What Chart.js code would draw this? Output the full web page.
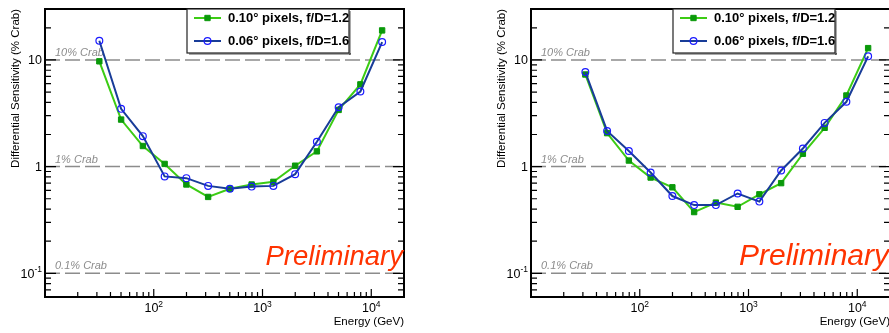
<!DOCTYPE html>
<html>
<head>
<meta charset="utf-8">
<script src="https://cdn.jsdelivr.net/npm/chart.js@4.4.0/dist/chart.umd.min.js"></script>
<style>
  html, body { margin: 0; padding: 0; background: #fff; overflow: hidden; }
  #wrap { position: relative; width: 889px; height: 333px; overflow: hidden; }
  canvas { position: absolute; top: 0; }
</style>
</head>
<body>
<div id="wrap">
  <canvas id="leftChart" width="445" height="333" style="left:0"></canvas>
  <canvas id="rightChart" width="445" height="333" style="left:486px"></canvas>
</div>
<script>
// energy bins (GeV)
const energies = [31.6, 50.1, 79.4, 125.9, 199.5, 316.2, 501.2, 794.3, 1258.9, 1995.3, 3162.3, 5011.9, 7943.3, 12589.3];

// differential sensitivity (% Crab), left panel
const leftCoarse = [9.7, 2.76, 1.56, 1.06, 0.68, 0.52, 0.62, 0.68, 0.72, 1.02, 1.39, 3.4, 5.9, 18.9];
const leftFine   = [15.1, 3.48, 1.93, 0.81, 0.78, 0.66, 0.62, 0.65, 0.66, 0.85, 1.71, 3.6, 5.06, 14.7];
// right panel
const rightCoarse = [7.3, 2.06, 1.14, 0.79, 0.64, 0.375, 0.46, 0.42, 0.55, 0.70, 1.32, 2.31, 4.64, 12.9];
const rightFine   = [7.69, 2.16, 1.40, 0.88, 0.53, 0.436, 0.436, 0.56, 0.47, 0.92, 1.48, 2.57, 4.05, 10.8];

const seriesLabels = ['0.10\u00b0 pixels, f/D=1.2', '0.06\u00b0 pixels, f/D=1.6'];

// reference levels
const crabLevels = [10, 1, 0.1];
const crabLabels = ['10% Crab', '1% Crab', '0.1% Crab'];

// axis ticks
const xTickValues = [100, 1000, 10000];
const xTickExp = ['2', '3', '4'];
const xMinorTicks = [20, 30, 40, 50, 60, 70, 80, 90, 200, 300, 400, 500, 600, 700, 800, 900,
                     2000, 3000, 4000, 5000, 6000, 7000, 8000, 9000];
const yTickValues = [0.1, 1, 10];
const yTickBase = ['10', '1', '10'];
const yTickExp = ['-1', '', ''];
const yMinorTicks = [0.07, 0.08, 0.09, 0.2, 0.3, 0.4, 0.5, 0.6, 0.7, 0.8, 0.9,
                     2, 3, 4, 5, 6, 7, 8, 9, 20];

const FONT = "'Liberation Sans', Arial, sans-serif";
Chart.defaults.font.family = FONT;
Chart.defaults.color = '#000';

function drawPow(ctx, base, exp, x, baseY, align) {
  ctx.font = '12.5px ' + FONT;
  const wb = ctx.measureText(base).width;
  ctx.font = '8.5px ' + FONT;
  const we = exp ? ctx.measureText(exp).width : 0;
  const total = wb + we;
  let sx = align === 'right' ? x - total : x - total / 2;
  ctx.textAlign = 'left';
  ctx.textBaseline = 'alphabetic';
  ctx.font = '12.5px ' + FONT;
  ctx.fillText(base, sx, baseY);
  if (exp) {
    ctx.font = '8.5px ' + FONT;
    ctx.fillText(exp, sx + wb, baseY - 5.5);
  }
}

const rootStyle = {
  id: 'rootStyle',
  beforeDatasetsDraw(chart) {
    const { ctx, chartArea: a, scales: { y } } = chart;
    ctx.save();
    ctx.strokeStyle = '#8c8c8c';
    ctx.lineWidth = 1.5;
    ctx.setLineDash([15, 5]);
    crabLevels.forEach(v => {
      const py = y.getPixelForValue(v);
      ctx.beginPath();
      ctx.moveTo(a.left, py);
      ctx.lineTo(a.right, py);
      ctx.stroke();
    });
    ctx.setLineDash([]);
    ctx.fillStyle = '#8c8c8c';
    ctx.font = 'italic 11px ' + FONT;
    ctx.textAlign = 'left';
    ctx.textBaseline = 'alphabetic';
    crabLevels.forEach((v, i) => {
      ctx.fillText(crabLabels[i], a.left + 10, y.getPixelForValue(v) - 4);
    });
    ctx.restore();
  },
  afterDraw(chart, args, opts) {
    const { ctx, chartArea: a, scales: { x, y } } = chart;
    ctx.save();

    // frame
    ctx.strokeStyle = '#000';
    ctx.lineWidth = 2;
    ctx.strokeRect(a.left, a.top, a.right - a.left, a.bottom - a.top);

    // inner tick marks
    ctx.lineWidth = 1.2;
    ctx.beginPath();
    const yTick = (v, len) => {
      const py = y.getPixelForValue(v);
      ctx.moveTo(a.left, py); ctx.lineTo(a.left + len, py);
      ctx.moveTo(a.right, py); ctx.lineTo(a.right - len, py);
    };
    yMinorTicks.forEach(v => yTick(v, 6));
    yTickValues.forEach(v => yTick(v, 11));
    const xTick = (v, len) => {
      const px = x.getPixelForValue(v);
      ctx.moveTo(px, a.bottom); ctx.lineTo(px, a.bottom - len);
    };
    xMinorTicks.forEach(v => xTick(v, 5));
    xTickValues.forEach(v => xTick(v, 8));
    ctx.stroke();

    // tick labels
    ctx.fillStyle = '#000';
    yTickValues.forEach((v, i) => {
      drawPow(ctx, yTickBase[i], yTickExp[i], a.left - 3, y.getPixelForValue(v) + 4.5, 'right');
    });
    xTickValues.forEach((v, i) => {
      drawPow(ctx, '10', xTickExp[i], x.getPixelForValue(v), a.bottom + 15, 'center');
    });

    // Preliminary
    ctx.fillStyle = '#ff3300';
    ctx.font = 'italic ' + opts.prelimSize + 'px ' + FONT;
    ctx.textAlign = 'right';
    ctx.fillText('Preliminary', a.right - 1, a.top + 256);

    // legend
    const lx = a.left + 142, ly = a.top, lw = 162, lh = 44;
    ctx.fillStyle = '#fff';
    ctx.fillRect(lx, ly, lw, lh);
    ctx.strokeStyle = '#222';
    ctx.lineWidth = 1.2;
    ctx.strokeRect(lx, ly, lw, lh);
    ctx.fillStyle = '#555';
    ctx.fillRect(lx + lw, ly + 2, 1.5, lh);
    ctx.fillRect(lx + 2, ly + lh, lw, 1.5);
    chart.data.datasets.forEach((ds, i) => {
      const cy = ly + 9 + i * 23;
      ctx.strokeStyle = ds.borderColor;
      ctx.lineWidth = ds.borderWidth;
      ctx.beginPath();
      ctx.moveTo(lx + 7, cy);
      ctx.lineTo(lx + 34, cy);
      ctx.stroke();
      ctx.fillStyle = ds.pointBackgroundColor;
      ctx.strokeStyle = ds.pointBorderColor;
      ctx.lineWidth = ds.pointBorderWidth;
      Chart.helpers.drawPoint(ctx, { pointStyle: ds.pointStyle, radius: ds.pointRadius, rotation: 0, borderWidth: ds.pointBorderWidth }, lx + 20.5, cy);
      ctx.fillStyle = '#000';
      ctx.font = 'bold 13px ' + FONT;
      ctx.textAlign = 'left';
      ctx.textBaseline = 'middle';
      ctx.fillText(ds.label, lx + 41, cy + 0.5);
    });
    ctx.restore();
  }
};

function makeChart(id, coarse, fine, prelimSize) {
  const toPoints = arr => arr.map((v, i) => ({ x: energies[i], y: v }));
  return new Chart(document.getElementById(id), {
    type: 'line',
    data: {
      datasets: [{
        label: seriesLabels[0],
        data: toPoints(coarse),
        borderColor: '#3ccc14',
        borderWidth: 2,
        pointStyle: 'rect',
        pointRadius: 3.8,
        pointBackgroundColor: '#0a990a',
        pointBorderColor: '#0a990a',
        pointBorderWidth: 1,
        tension: 0,
        order: 2
      }, {
        label: seriesLabels[1],
        data: toPoints(fine),
        borderColor: '#183c98',
        borderWidth: 2,
        pointStyle: 'circle',
        pointRadius: 3.4,
        pointBackgroundColor: 'rgba(0,0,0,0)',
        pointBorderColor: '#1a1aff',
        pointBorderWidth: 1.2,
        tension: 0,
        order: 1
      }]
    },
    options: {
      responsive: false,
      animation: false,
      layout: { padding: { top: 9, right: 41, left: 0, bottom: 0 } },
      plugins: {
        legend: { display: false },
        tooltip: { enabled: false },
        rootStyle: { prelimSize: prelimSize }
      },
      scales: {
        x: {
          type: 'logarithmic',
          min: 10,
          max: 20000,
          ticks: { display: false },
          grid: { display: false },
          border: { display: false },
          title: { display: true, text: 'Energy (GeV)', align: 'end', color: '#000',
                   font: { size: 11.5 }, padding: { top: 0, bottom: 4 } },
          afterFit(s) { s.height = 36; }
        },
        y: {
          type: 'logarithmic',
          min: 0.06,
          max: 30,
          ticks: { display: false },
          grid: { display: false },
          border: { display: false },
          title: { display: true, text: 'Differential Sensitivity (% Crab)', align: 'end', color: '#000',
                   font: { size: 11.5 }, padding: { top: 9, bottom: 0 } },
          afterFit(s) { s.width = 45; }
        }
      }
    },
    plugins: [rootStyle]
  });
}

makeChart('leftChart', leftCoarse, leftFine, 27.5);
makeChart('rightChart', rightCoarse, rightFine, 30);
</script>
</body>
</html>
